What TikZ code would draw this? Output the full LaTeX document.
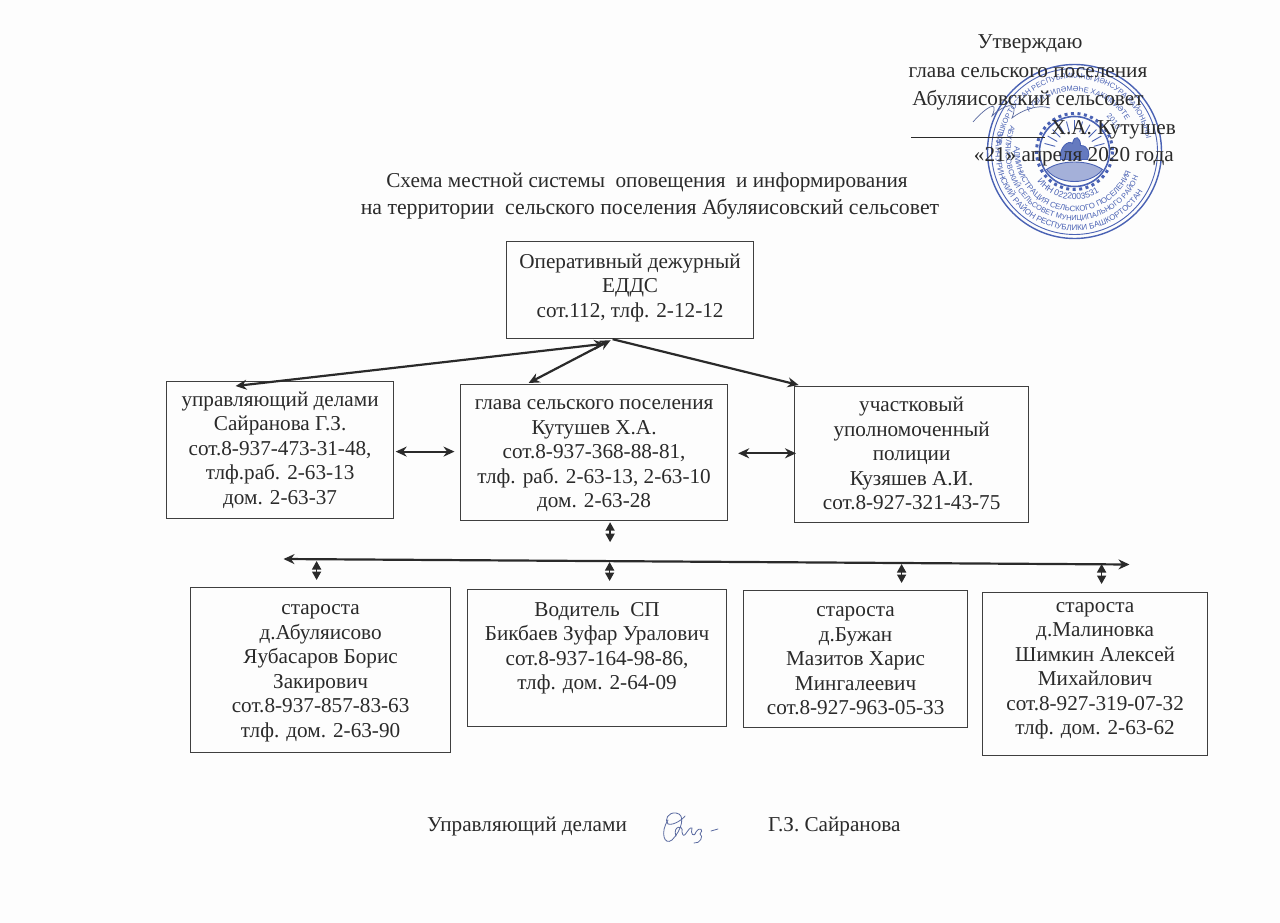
\documentclass[tikz,border=0pt]{standalone}
\usepackage{fontspec}
\setmainfont{Liberation Serif}
\newfontfamily\stampfont{Liberation Sans}
\usetikzlibrary{arrows.meta,calc,decorations.text}
\definecolor{ink}{HTML}{2A2A2A}
\definecolor{stampblue}{HTML}{4A62B4}
\definecolor{signblue}{HTML}{5A6AA0}
\definecolor{paper}{HTML}{FDFDFD}
\tikzset{
  x=1pt,y=-1pt,
  txt/.style={text=ink,font=\fontsize{21.2}{24.5}\selectfont,align=center,inner sep=0pt},
  boxn/.style={draw=ink!90,line width=1.2pt,inner sep=0pt,text=ink,font=\fontsize{21.2}{24.5}\selectfont,align=center},
  conn/.style={draw=ink,line width=2.2pt,{Stealth[length=11pt,width=10pt]}-{Stealth[length=11pt,width=10pt]}},
  conn1/.style={draw=ink,line width=2.2pt,-{Stealth[length=11pt,width=10pt]}},
  vconn/.style={draw=ink,line width=1.6pt,{Triangle[length=8.5pt,width=9pt]}-{Triangle[length=8.5pt,width=9pt]}},
  stampline/.style={draw=stampblue,line width=.9pt},
  ringtext/.style={postaction={decorate,decoration={text along path,text align=center,text color=stampblue,text={#1}}}},
}
\newcommand{\bx}[6]{\node[boxn,minimum width=#4pt-#2pt,minimum height=#5pt-#3pt,anchor=north west] (#1) at (#2,#3) {#6};}
\newcommand{\hi}[1]{\rule{0pt}{#1pt}}
\newcommand{\lo}[1]{\rule[-#1pt]{0pt}{#1pt}}
\begin{document}
\begin{tikzpicture}
\useasboundingbox (0,0) rectangle (1280,923);
\fill[paper] (0,0) rectangle (1280,923);
% stamp
\begin{scope}[shift={(1074.5,151.5)}]
  \draw[stampline,line width=1.4pt] (0,0) circle (87);
  \draw[stampline] (0,0) circle (83);
  \draw[stampline,line width=3pt,dash pattern=on 3pt off 3.5pt] (0,0) circle (38);
  \draw[stampline,line width=1.6pt] (0,0) circle (35);
  \path[stampline,fill=stampblue!50] (-28,18) .. controls (-14,8) and (14,8) .. (28,18) .. controls (16,34) and (-16,34) .. cycle;
  \path[stampline,fill=stampblue!85] (-14,8) .. controls (-16,-4) and (-6,-12) .. (-2,-8) .. controls (0,-18) and (6,-14) .. (6,-6) .. controls (14,-6) and (16,2) .. (13,8) -- cycle;
  \foreach \a in {195,210,...,345} \draw[stampline] (\a:20) -- (\a:31);
  \path[ringtext={|\fontsize{8}{9}\stampfont|ЗИАНЧУРИНСКИЙ РАЙОН РЕСПУБЛИКИ БАШКОРТОСТАН}] (205:79) arc[start angle=205,end angle=20,radius=79];
  \path[ringtext={|\fontsize{7.4}{9}\stampfont|АБУЛЯИСОВСКИЙ СЕЛЬСОВЕТ МУНИЦИПАЛЬНОГО РАЙОНА}] (200:69) arc[start angle=200,end angle=20,radius=69];
  \path[ringtext={|\fontsize{7.8}{9}\stampfont|АДМИНИСТРАЦИЯ СЕЛЬСКОГО ПОСЕЛЕНИЯ}] (185:60) arc[start angle=185,end angle=20,radius=60];
  \path[ringtext={|\fontsize{8.6}{9}\stampfont|ИНН 0222003531}] (155:48) arc[start angle=155,end angle=45,radius=48];
  \path[ringtext={|\fontsize{7.4}{9}\stampfont|БАШКОРТОСТАН РЕСПУБЛИКАҺЫ ЙӘНСУРА РАЙОНЫНЫҢ}] (190:73) arc[start angle=190,end angle=350,radius=73];
  \path[ringtext={|\fontsize{7.4}{9}\stampfont|АУЫЛ БИЛӘМӘҺЕ ХАКИМИӘТЕ}] (215:60) arc[start angle=215,end angle=335,radius=60];
  \path[ringtext={|\fontsize{7.4}{9}\stampfont|2010}] (-60:47) arc[start angle=-60,end angle=-15,radius=47];
\end{scope}
% signature on the approval line
\draw[signblue,line width=.7pt] (973,122) .. controls (985,108) and (1000,98) .. (992,116) .. controls (1002,106) and (1020,98) .. (1012,118) .. controls (1022,110) and (1038,104) .. (1050,108);
% approval block
\node[txt] (a1) at (1030,44) {Утверждаю};
\node[txt] (a2) at (1028,73) {глава сельского поселения};
\node[txt] (a3) at (1028,100) {Абуляисовский сельсовет};
\node[txt,anchor=east] (a4) at (1176,130) {Х.А. Кутушев};
\node[txt,anchor=east] (a5) at (1174,157) {«21» апреля 2020 года};
\coordinate (signL) at (911,137);
\coordinate (signR) at (1045,137);
\draw[ink,line width=.9pt] (signL) -- (signR);
% title
\node[txt] (t1) at (647,182) {Схема местной системы\ \ оповещения\ \ и информирования};
\node[txt,font=\fontsize{21.75}{24.5}\selectfont] (t2) at (650,209) {на территории\ \ сельского поселения Абуляисовский сельсовет};
% boxes
\bx{top}{506}{241}{753}{338}{Оперативный дежурный\\ЕДДС\\сот.112, тлф. 2-12-12\lo{9}}
\bx{left}{166}{381}{393}{518}{управляющий делами\\Сайранова Г.З.\\сот.8-937-473-31-48,\\тлф.раб. 2-63-13\\дом. 2-63-37}
\bx{mid}{460}{384}{727}{520}{\hi{16}глава сельского поселения\\Кутушев Х.А.\\сот.8-937-368-88-81,\\тлф. раб. 2-63-13, 2-63-10\\дом. 2-63-28}
\bx{right}{794}{386}{1028}{522}{участковый\\уполномоченный\\полиции\\Кузяшев А.И.\\сот.8-927-321-43-75\lo{2.5}}
\bx{b1}{190}{587}{450}{752}{\hi{16}староста\\д.Абуляисово\\Яубасаров Борис\\Закирович\\сот.8-937-857-83-63\\тлф. дом. 2-63-90}
\bx{b2}{467}{589}{726}{726}{Водитель\ \ СП\\Бикбаев Зуфар Уралович\\сот.8-937-164-98-86,\\тлф. дом. 2-64-09\\\mbox{}}
\bx{b3}{743}{590}{967}{727}{\hi{14}староста\\д.Бужан\\Мазитов Харис\\Мингалеевич\\сот.8-927-963-05-33}
\bx{b4}{982}{592}{1207}{755}{староста\\д.Малиновка\\Шимкин Алексей\\Михайлович\\сот.8-927-319-07-32\\тлф. дом. 2-63-62\lo{11}}
% connectors
\draw[conn] ([shift={(-25pt,-4.5pt)}]top.south) -- ([shift={(-44.5pt,-5pt)}]left.north);
\draw[conn] ([shift={(-19.5pt,-1pt)}]top.south) -- ([shift={(-65.5pt,1pt)}]mid.north);
\draw[conn1] ([shift={(-17.5pt,0pt)}]top.south) -- ([shift={(-113pt,1pt)}]right.north);
\draw[conn] ([shift={(1.5pt,-1.5pt)}]left.east) -- ([shift={(-5.5pt,1pt)}]mid.west);
\draw[conn] ([shift={(10pt,-.7pt)}]mid.east) -- ([shift={(2pt,1.3pt)}]right.west);
\coordinate (busL) at (283.5,559);
\coordinate (busR) at (1129.5,564.5);
\draw[conn] (busL) -- (busR);
\draw[vconn] ([shift={(16pt,-1pt)}]mid.south) -- ([shift={(16pt,-21pt)}]mid.south);
\draw[vconn] ([shift={(-4pt,26pt)}]b1.north) -- ([shift={(-4pt,7pt)}]b1.north);
\draw[vconn] ([shift={(12.5pt,27pt)}]b2.north) -- ([shift={(12.5pt,8pt)}]b2.north);
\draw[vconn] ([shift={(46pt,26pt)}]b3.north) -- ([shift={(46pt,7pt)}]b3.north);
\draw[vconn] ([shift={(6.5pt,28pt)}]b4.north) -- ([shift={(6.5pt,8pt)}]b4.north);
% footer
\node[txt,anchor=west] (f1) at (427,826) {Управляющий делами};
\node[txt,anchor=west] (f2) at (768,826) {Г.З. Сайранова};
\draw[signblue,line width=.8pt,line cap=round] (668,820) .. controls (660,832) and (664,846) .. (672,840) .. controls (682,830) and (686,814) .. (676,813) .. controls (668,812) and (664,820) .. (668,824) .. controls (674,826) and (684,818) .. (685,816);
\draw[signblue,line width=.8pt,line cap=round] (676,836) .. controls (672,826) and (684,824) .. (682,832) .. controls (684,842) and (688,826) .. (692,828) .. controls (690,834) and (694,838) .. (696,832) .. controls (700,826) and (704,830) .. (700,834) .. controls (704,836) and (700,844) .. (694,843);
\draw[signblue,line width=.8pt,line cap=round] (711,831) -- (718,829);
\end{tikzpicture}
\end{document}
